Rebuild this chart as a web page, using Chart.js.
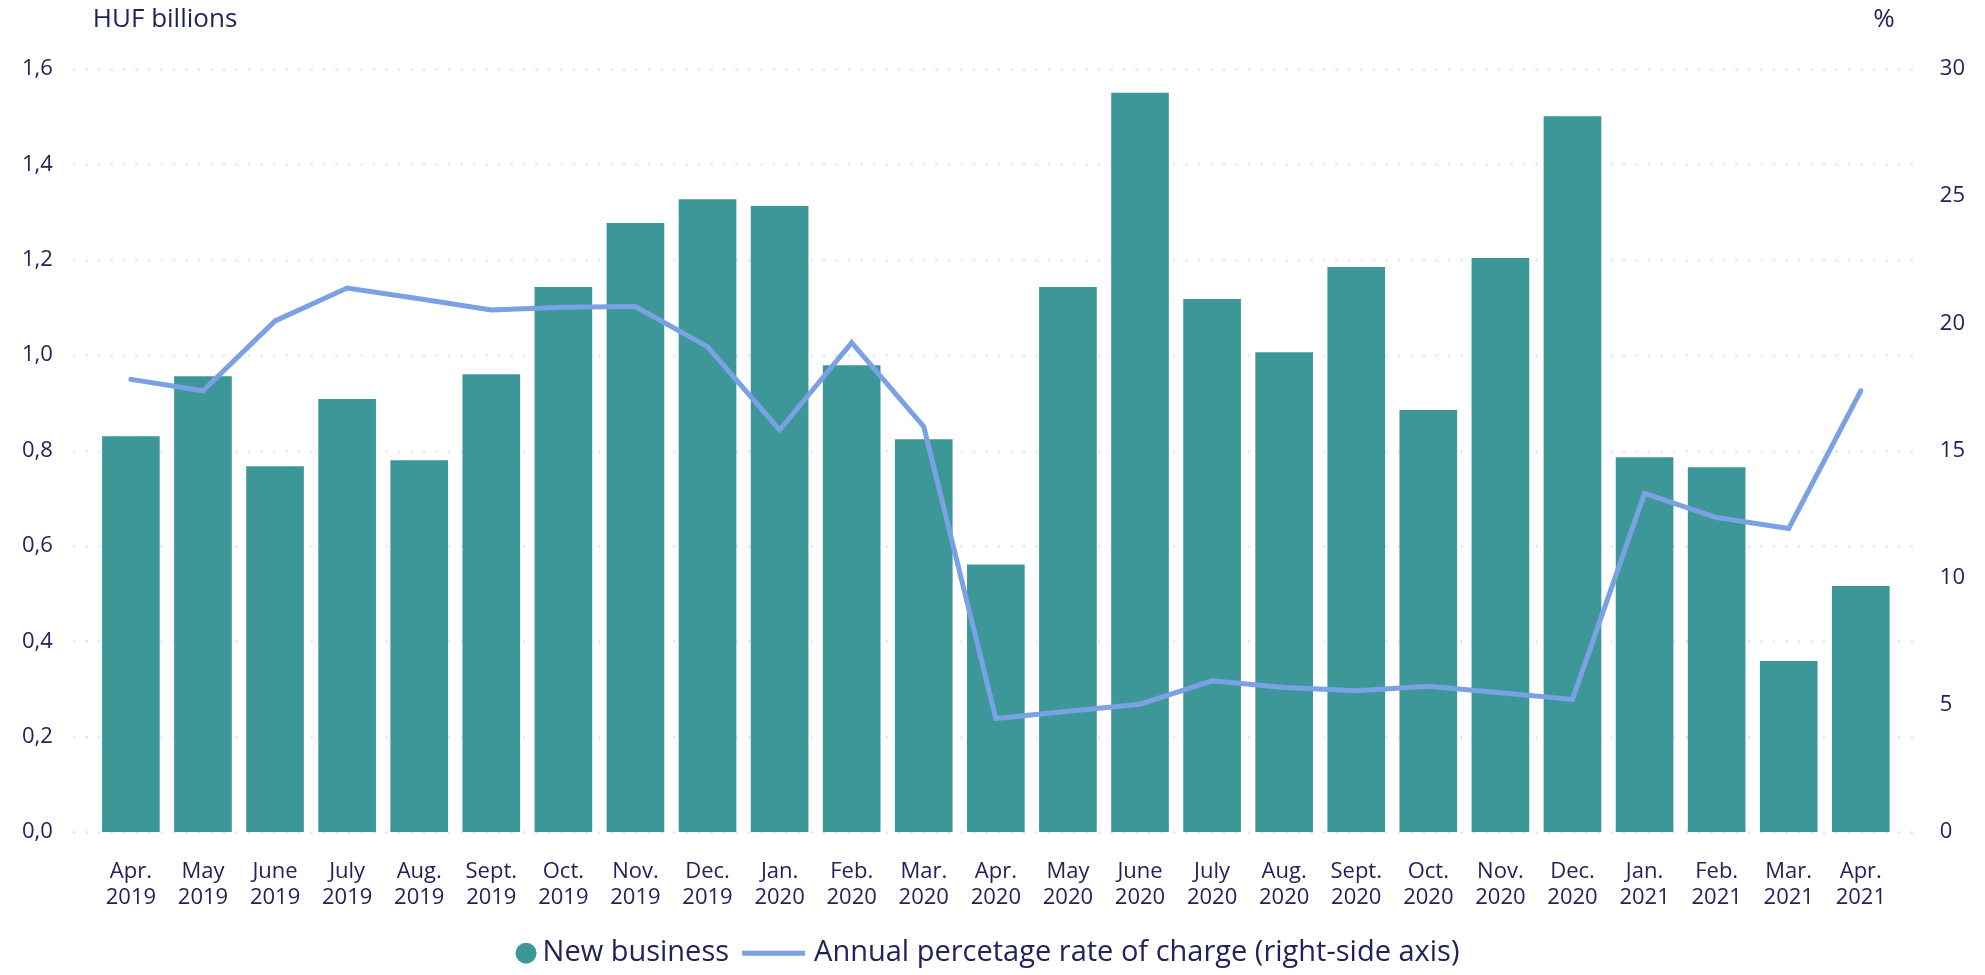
<!DOCTYPE html>
<html>
<head>
<meta charset="utf-8">
<title>New business and APRC</title>
<script src="https://cdn.jsdelivr.net/npm/chart.js@4.4.0/dist/chart.umd.min.js"></script>
<style>
    html, body { margin: 0; padding: 0; background: #ffffff; }
    #wrap { width: 1985px; height: 975px; position: relative; }
</style>
</head>
<body>
<div id="wrap"><canvas id="loanChart"></canvas></div>
<script>
// categories (two-line tick labels)
const months = ['Apr.', 'May', 'June', 'July', 'Aug.', 'Sept.', 'Oct.', 'Nov.', 'Dec.',
    'Jan.', 'Feb.', 'Mar.', 'Apr.', 'May', 'June', 'July', 'Aug.', 'Sept.', 'Oct.', 'Nov.', 'Dec.',
    'Jan.', 'Feb.', 'Mar.', 'Apr.'];
const years = ['2019', '2019', '2019', '2019', '2019', '2019', '2019', '2019', '2019',
    '2020', '2020', '2020', '2020', '2020', '2020', '2020', '2020', '2020', '2020', '2020', '2020',
    '2021', '2021', '2021', '2021'];

// HUF billions, left axis
const newBusiness = [0.830, 0.956, 0.767, 0.908, 0.780, 0.960, 1.143, 1.277, 1.327,
    1.313, 0.979, 0.824, 0.561, 1.143, 1.550, 1.118, 1.006, 1.185, 0.885, 1.204, 1.501,
    0.786, 0.765, 0.359, 0.516];

// %, right axis
const aprc = [17.80, 17.35, 20.10, 21.39, 20.97, 20.53, 20.63, 20.66, 19.08,
    15.81, 19.24, 15.94, 4.47, 4.75, 5.03, 5.95, 5.69, 5.56, 5.74, 5.48, 5.22,
    13.32, 12.37, 11.94, 17.35];

const seriesNames = ['New business', 'Annual percetage rate of charge (right-side axis)'];
const unitLeft = 'HUF billions';
const unitRight = '%';

const leftAxis = { min: 0, max: 1.6, step: 0.2 };
const rightAxis = { min: 0, max: 30, step: 5 };

const barColor = '#3d9799';
const lineColor = '#7aa1e3';
const textColor = '#22235a';
const gridColor = '#e4e4f6';

Chart.defaults.font.family = "'Open Sans', sans-serif";
Chart.defaults.color = textColor;

// Chart.js reserves the tick padding twice for an axis; keep it once
function trimPadding(scale) {
    scale.width = scale.width - scale.options.ticks.padding;
}

// dotted horizontal grid, a bit wider than the plot like the original
const dottedGrid = {
    id: 'dottedGrid',
    beforeDatasetsDraw(chart) {
        const { ctx, chartArea } = chart;
        const y = chart.scales.y;
        ctx.save();
        ctx.strokeStyle = gridColor;
        ctx.lineWidth = 2.5;
        ctx.setLineDash([2.5, 10]);
        y.ticks.forEach((t, i) => {
            const py = Math.round(y.getPixelForTick(i)) + 0.5;
            ctx.beginPath();
            ctx.moveTo(chartArea.left - 22, py);
            ctx.lineTo(chartArea.right + 21, py);
            ctx.stroke();
        });
        ctx.restore();
    }
};

// unit captions above both axes
const unitLabels = {
    id: 'unitLabels',
    afterDraw(chart) {
        const { ctx, chartArea } = chart;
        ctx.save();
        ctx.fillStyle = textColor;
        ctx.font = "26px 'Open Sans', sans-serif";
        ctx.textBaseline = 'middle';
        ctx.textAlign = 'left';
        ctx.fillText(unitLeft, chartArea.left - 2, chartArea.top - 49);
        ctx.textAlign = 'right';
        ctx.fillText(unitRight, chartArea.right - 2, chartArea.top - 49);
        ctx.restore();
    }
};

// legend row: dot for the bars, short stroke for the line
const bottomLegend = {
    id: 'bottomLegend',
    afterDraw(chart) {
        const { ctx, chartArea, width } = chart;
        const ds = chart.data.datasets;
        ctx.save();
        ctx.font = "29px 'Open Sans', sans-serif";
        ctx.textBaseline = 'middle';
        ctx.textAlign = 'left';
        const y = chartArea.bottom + 121;
        const w1 = ctx.measureText(ds[0].label).width;
        const w2 = ctx.measureText(ds[1].label).width;
        const r = 10.5;
        const stroke = 63;
        const total = 2 * r + 6 + w1 + 13 + stroke + 9 + w2;
        let x = (width - total) / 2 - 5;

        ctx.fillStyle = ds[0].backgroundColor;
        ctx.beginPath();
        ctx.arc(x + r, y, r, 0, Math.PI * 2);
        ctx.fill();
        x += 2 * r + 6;
        ctx.fillStyle = textColor;
        ctx.fillText(ds[0].label, x, y);
        x += w1 + 13;

        ctx.strokeStyle = ds[1].borderColor;
        ctx.lineWidth = 5;
        ctx.beginPath();
        ctx.moveTo(x, y);
        ctx.lineTo(x + stroke, y);
        ctx.stroke();
        x += stroke + 9;
        ctx.fillText(ds[1].label, x, y);
        ctx.restore();
    }
};

const labels = months.map((m, i) => [m, years[i]]);

new Chart(document.getElementById('loanChart'), {
    type: 'bar',
    data: {
        labels: labels,
        datasets: [
            {
                type: 'bar',
                label: seriesNames[0],
                data: newBusiness,
                backgroundColor: barColor,
                borderWidth: 0,
                barPercentage: 0.8,
                categoryPercentage: 1.0,
                yAxisID: 'y',
                order: 2
            },
            {
                type: 'line',
                label: seriesNames[1],
                data: aprc,
                borderColor: lineColor,
                backgroundColor: lineColor,
                borderWidth: 5,
                borderCapStyle: 'round',
                pointRadius: 0,
                pointHoverRadius: 0,
                tension: 0,
                yAxisID: 'y1',
                order: 1
            }
        ]
    },
    options: {
        responsive: true,
        maintainAspectRatio: false,
        animation: false,
        devicePixelRatio: 1,
        layout: {
            padding: { top: 69, left: 22, right: 20, bottom: 38 }
        },
        plugins: {
            tooltip: { enabled: false },
            legend: { display: false }
        },
        scales: {
            x: {
                grid: { display: false, drawTicks: false },
                border: { display: false },
                ticks: {
                    font: { size: 22 },
                    color: textColor,
                    padding: 26,
                    maxRotation: 0,
                    autoSkip: false
                }
            },
            y: {
                position: 'left',
                min: leftAxis.min,
                max: leftAxis.max,
                grid: { display: false, drawTicks: false },
                border: { display: false },
                ticks: {
                    stepSize: leftAxis.step,
                    font: { size: 22 },
                    color: textColor,
                    padding: 42,
                    callback: v => v.toFixed(1).replace('.', ',')
                },
                afterFit: trimPadding
            },
            y1: {
                position: 'right',
                min: rightAxis.min,
                max: rightAxis.max,
                grid: { display: false, drawTicks: false },
                border: { display: false },
                ticks: {
                    stepSize: rightAxis.step,
                    font: { size: 22 },
                    color: textColor,
                    padding: 43
                },
                afterFit: trimPadding
            }
        }
    },
    plugins: [dottedGrid, unitLabels, bottomLegend]
});
</script>
</body>
</html>
